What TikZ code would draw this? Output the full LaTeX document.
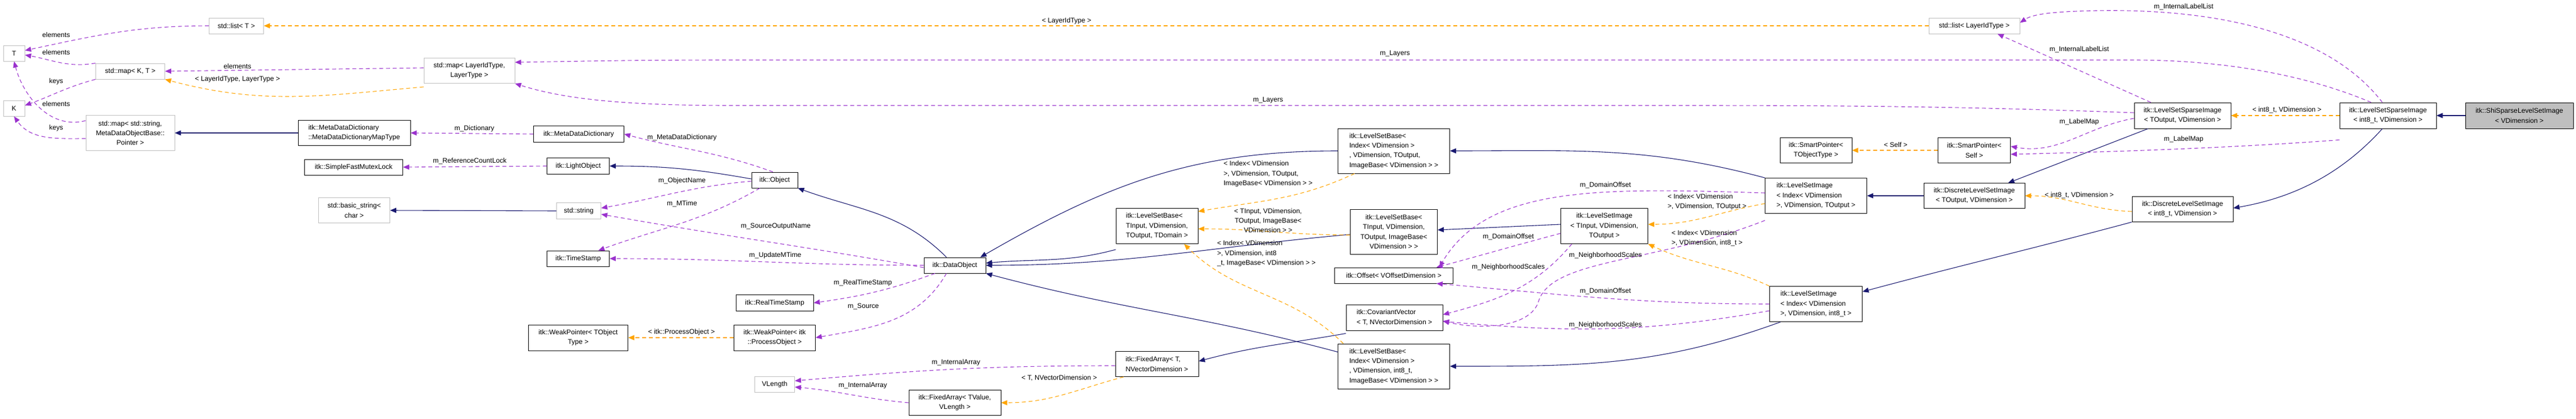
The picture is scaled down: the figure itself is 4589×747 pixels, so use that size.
\documentclass[tikz,border=0pt]{standalone}
\usepackage{fontspec}
\newfontfamily\dfont{Liberation Sans}
\usetikzlibrary{arrows.meta}
\definecolor{navy}{HTML}{191970}
\definecolor{purp}{HTML}{9A32CD}
\definecolor{orng}{HTML}{FFA500}
\definecolor{gborder}{HTML}{BFBFBF}
\definecolor{gfill}{HTML}{BFBFBF}
\begin{document}
\begin{tikzpicture}[x=1bp,y=-1bp,
  box/.style={draw=black, line width=0.9bp, fill=white, align=center, inner sep=1bp, font=\dfont\fontsize{12.2}{17.4}\selectfont},
  lbox/.style={box, align=left},
  gbox/.style={box, draw=gborder},
  lbl/.style={font=\dfont\fontsize{12.2}{17.4}\selectfont, inner sep=0pt, align=center},
  llbl/.style={lbl, align=left},
  tip/.style={-{Triangle[length=11bp,width=9bp]}},
  inh/.style={draw=navy, line width=1.1bp, tip},
  use/.style={draw=purp, line width=1.1bp, dash pattern=on 7bp off 5bp, tip},
  tpl/.style={draw=orng, line width=1.1bp, dash pattern=on 7bp off 5bp, tip}]
\useasboundingbox (0,0) rectangle (4589,747);
% nodes
\node[gbox, minimum width=38bp, minimum height=28bp] (T) at (25,95) {T};
\node[gbox, minimum width=38bp, minimum height=28bp] (K) at (25,193) {K};
\node[gbox, minimum width=97bp, minimum height=28bp] (listT) at (421,46) {std::list< T >};
\node[gbox, minimum width=123bp, minimum height=28bp] (mapKT) at (232,127) {std::map< K, T >};
\node[gbox, minimum width=158bp, minimum height=63bp] (mapSP) at (232,237) {std::map< std::string,\\ MetaDataObjectBase::\\ Pointer >};
\node[lbox, minimum width=200bp, minimum height=45bp] (mdmt) at (631,237) {itk::MetaDataDictionary\\::MetaDataDictionaryMapType};
\node[box, minimum width=175bp, minimum height=28bp] (sfml) at (630,298) {itk::SimpleFastMutexLock};
\node[gbox, minimum width=127bp, minimum height=45bp] (bstr) at (631,375) {std::basic\_string<\\ char >};
\node[gbox, minimum width=162bp, minimum height=45bp] (mapLL) at (836,126) {std::map< LayerIdType,\\ LayerType >};
\node[box, minimum width=161bp, minimum height=29bp] (mdd) at (1031,239) {itk::MetaDataDictionary};
\node[box, minimum width=111bp, minimum height=29bp] (lobj) at (1030,296) {itk::LightObject};
\node[box, minimum width=82bp, minimum height=28bp] (obj) at (1380,321) {itk::Object};
\node[gbox, minimum width=79bp, minimum height=29bp] (str) at (1031,376) {std::string};
\node[box, minimum width=111bp, minimum height=28bp] (ts) at (1030,461) {itk::TimeStamp};
\node[box, minimum width=138bp, minimum height=29bp] (rts) at (1380,540) {itk::RealTimeStamp};
\node[box, minimum width=177bp, minimum height=46bp] (wpT) at (1030,602) {itk::WeakPointer< TObject\\Type >};
\node[box, minimum width=145bp, minimum height=46bp] (wpP) at (1380,602) {itk::WeakPointer< itk\\::ProcessObject >};
\node[gbox, minimum width=71bp, minimum height=28bp] (vlen) at (1380,685) {VLength};
\node[box, minimum width=110bp, minimum height=28bp] (dobj) at (1701,473) {itk::DataObject};
\node[lbox, minimum width=146bp, minimum height=63bp] (lsbD) at (2061,403) {itk::LevelSetBase<\\ TInput, VDimension,\\ TOutput, TDomain >};
\node[lbox, minimum width=148bp, minimum height=45bp] (faT) at (2061,649) {itk::FixedArray< T,\\ NVectorDimension >};
\node[box, minimum width=164bp, minimum height=45bp] (faV) at (1701,718) {itk::FixedArray< TValue,\\VLength >};
\node[lbox, minimum width=199bp, minimum height=80bp] (lsbIO) at (2483,269) {itk::LevelSetBase<\\ Index< VDimension >\\, VDimension, TOutput,\\ ImageBase< VDimension > >};
\node[box, minimum width=155bp, minimum height=80bp] (lsbTI) at (2483,413) {itk::LevelSetBase<\\ TInput, VDimension,\\TOutput, ImageBase<\\VDimension > >};
\node[box, minimum width=211bp, minimum height=28bp] (off) at (2483,491) {itk::Offset< VOffsetDimension >};
\node[lbox, minimum width=172bp, minimum height=46bp] (cov) at (2484,566) {itk::CovariantVector\\< T, NVectorDimension >};
\node[lbox, minimum width=199bp, minimum height=80bp] (lsbI8) at (2483,653) {itk::LevelSetBase<\\ Index< VDimension >\\, VDimension, int8\_t,\\ ImageBase< VDimension > >};
\node[box, minimum width=155bp, minimum height=63bp] (lsiT) at (2858,403) {itk::LevelSetImage\\< TInput, VDimension,\\TOutput >};
\node[gbox, minimum width=162bp, minimum height=28bp] (listL) at (3517,46) {std::list< LayerIdType >};
\node[box, minimum width=128bp, minimum height=45bp] (spT) at (3235,268) {itk::SmartPointer<\\TObjectType >};
\node[box, minimum width=129bp, minimum height=45bp] (spS) at (3517,268) {itk::SmartPointer<\\Self >};
\node[lbox, minimum width=181bp, minimum height=63bp] (lsiIO) at (3235,349) {itk::LevelSetImage\\< Index< VDimension\\ >, VDimension, TOutput >};
\node[box, minimum width=180bp, minimum height=45bp] (dlsO) at (3517,349) {itk::DiscreteLevelSetImage\\< TOutput, VDimension >};
\node[lbox, minimum width=165bp, minimum height=63bp] (lsiI8) at (3235,542) {itk::LevelSetImage\\< Index< VDimension\\ >, VDimension, int8\_t >};
\node[box, minimum width=172bp, minimum height=46bp] (lssO) at (3888,206) {itk::LevelSetSparseImage\\< TOutput, VDimension >};
\node[box, minimum width=180bp, minimum height=45bp] (dls8) at (3888,373) {itk::DiscreteLevelSetImage\\< int8\_t, VDimension >};
\node[box, minimum width=172bp, minimum height=46bp] (lss8) at (4254,206) {itk::LevelSetSparseImage\\< int8\_t, VDimension >};
\node[box, fill=gfill, minimum width=192bp, minimum height=46bp] (shi) at (4488,206) {itk::ShiSparseLevelSetImage\\< VDimension >};
% edges left
\draw[use] (listT.west) to[out=180,in=12] ([yshift=5bp]T.east);
\draw[use] (mapKT.north west) to[out=190,in=-10] ([yshift=-3bp]T.east);
\draw[use] (mapKT.south west) to[out=195,in=20] ([yshift=5bp]K.east);
\draw[use] ([yshift=-10bp]mapSP.north west) to[out=195,in=-75] (T.south);
\draw[use] ([yshift=-10bp]mapSP.west) to[out=180,in=-55] (K.south);
\draw[tpl] (listL.west) -- (listT.east);
\draw[use] ([yshift=5bp]mapLL.west) -- (mapKT.east);
\draw[tpl] ([yshift=-6bp]mapLL.south west) to[out=185,in=-15] (mapKT.south east);
\draw[inh] (mdmt.west) -- (mapSP.east);
\draw[use] (mdd.west) -- (mdmt.east);
\draw[use] (lobj.west) -- (sfml.east);
\draw[inh] ([yshift=2bp]obj.west) to[out=170,in=0] (lobj.east);
\draw[use] ([xshift=-3bp]obj.north) to[out=160,in=-15] (mdd.east);
\draw[inh] (str.west) -- (bstr.east);
\draw[use] ([yshift=-2bp]obj.west) to[out=185,in=10] ([yshift=5bp]str.east);
\draw[use] ([xshift=15bp]obj.south west) to[out=-150,in=20] ([xshift=-20bp]ts.north east);
\draw[inh] ([xshift=-15bp]dobj.north) to[out=135,in=-20] (obj.south east);
\draw[use] ([yshift=-4bp]dobj.west) to[out=170,in=-10] ([yshift=-6bp]str.east);
\draw[use] (dobj.west) to[out=180,in=0] (ts.east);
\draw[use] ([xshift=20bp]dobj.south west) to[out=-160,in=8] (rts.east);
\draw[use] ([xshift=-15bp]dobj.south) to[out=-120,in=10] (wpP.east);
\draw[tpl] (wpP.west) -- (wpT.east);
% center
\draw[inh] ([yshift=-10bp]lsbD.south west) to[out=195,in=5] ([yshift=4bp]dobj.east);
\draw[inh] (lsbIO.west) to[out=180,in=30] ([xshift=-10bp]dobj.north east);
\draw[inh] ([yshift=-5bp]lsbTI.west) to[out=185,in=0] (dobj.east);
\draw[inh] ([yshift=-15bp]lsbI8.north west) to[out=165,in=-15] (dobj.south east);
\draw[tpl] ([xshift=30bp]lsbIO.south west) to[out=-155,in=10] ([yshift=-6bp]lsbD.north east);
\draw[tpl] ([yshift=-6bp]lsbTI.west) to[out=180,in=0] ([yshift=-5bp]lsbD.east);
\draw[tpl] ([xshift=10bp]lsbI8.north west) to[out=135,in=-45] ([xshift=-25bp]lsbD.south east);
\draw[use] ([yshift=-3bp]faT.west) to[out=180,in=5] ([yshift=6bp]vlen.east);
\draw[use] (faV.west) to[out=175,in=-5] ([yshift=-5bp]vlen.east);
\draw[tpl] ([xshift=15bp]faT.south west) to[out=-165,in=0] (faV.east);
\draw[inh] ([yshift=-5bp]cov.south west) to[out=190,in=15] ([yshift=5bp]faT.east);
\draw[inh] ([yshift=3bp]lsiT.west) -- ([yshift=3bp]lsbTI.east);
\draw[use] ([yshift=-13bp]lsiT.west) to[out=195,in=15] ([xshift=-30bp]off.north east);
\draw[use] ([xshift=20bp]lsiT.south west) to[out=-130,in=15] ([yshift=5bp]cov.east);
% right
\draw[inh] (lsiIO.north west) to[out=165,in=0] (lsbIO.east);
\draw[use] ([yshift=5bp]lsiIO.west) .. controls (2850,335) and (2650,330) .. ([xshift=-25bp]off.north east);
\draw[use] ([yshift=-12bp]lsiIO.south west) .. controls (2950,470) and (2760,460) .. (2740,540) .. controls (2720,590) and (2620,585) .. ([yshift=-6bp]cov.east);
\draw[tpl] ([yshift=18bp]lsiIO.south west) to[out=190,in=0] ([yshift=3bp]lsiT.east);
\draw[inh] ([xshift=20bp]lsiI8.south west) to[out=-160,in=0] (lsbI8.east);
\draw[use] (lsiI8.west) to[out=180,in=-5] ([xshift=-30bp]off.south east);
\draw[use] ([yshift=-12bp]lsiI8.west) to[out=190,in=-5] ([yshift=-7bp]cov.east);
\draw[tpl] (lsiI8.north west) to[out=155,in=-25] (lsiT.south east);
\draw[inh] (dlsO.west) -- (lsiIO.east);
\draw[inh] (dls8.south west) to[out=195,in=15] ([yshift=-10bp]lsiI8.north east);
\draw[tpl] ([yshift=-4bp]dls8.west) to[out=178,in=0] (dlsO.east);
\draw[tpl] (spS.west) -- (spT.east);
\draw[inh] ([xshift=25bp]lssO.south west) -- ([xshift=-30bp]dlsO.north east);
\draw[use] ([xshift=30bp]lssO.north west) -- ([xshift=-40bp]listL.south east);
\draw[use] ([yshift=5bp]lssO.west) .. controls (3500,190) and (3300,188) .. (3000,188) -- (1300,188) .. controls (1100,188) and (1000,175) .. (mapLL.south east);
\draw[use] ([yshift=-5bp]lssO.west) to[out=190,in=-10] ([yshift=7bp]spS.east);
\draw[tpl] (lss8.west) -- (lssO.east);
\draw[inh] ([xshift=-10bp]lss8.south) .. controls (4180,300) and (4100,350) .. ([yshift=2bp]dls8.east);
\draw[use] ([xshift=-10bp]lss8.north) .. controls (4150,60) and (3950,10) .. (3700,20) .. controls (3650,22) and (3620,26) .. ([yshift=-9bp]listL.north east);
\draw[use] ([xshift=-30bp]lss8.north) .. controls (4100,130) and (3950,107) .. (3800,107) -- (1300,107) .. controls (1100,107) and (1000,110) .. ([yshift=-8bp]mapLL.north east);
\draw[use] ([yshift=-20bp]lss8.south west) .. controls (4000,262) and (3800,270) .. ([yshift=-7bp]spS.east);
\draw[inh] (shi.west) -- (lss8.east);
% labels
\node[lbl] (a1) at (100,62) {elements};
\node[lbl] (a2) at (100,93) {elements};
\node[lbl] (a3) at (100,145) {keys};
\node[lbl] (a4) at (100,185) {elements};
\node[lbl] (a5) at (100,228) {keys};
\node[lbl] (a6) at (1900,37) {< LayerIdType >};
\node[lbl] (a7) at (423,118) {elements};
\node[lbl] (a8) at (423,141) {< LayerIdType, LayerType >};
\node[lbl] (a9) at (845,229) {m\_Dictionary};
\node[lbl] (a10) at (837,287) {m\_ReferenceCountLock};
\node[lbl] (a11) at (1215,245) {m\_MetaDataDictionary};
\node[lbl] (a12) at (1215,322) {m\_ObjectName};
\node[lbl] (a13) at (1215,363) {m\_MTime};
\node[lbl] (a14) at (1382,404) {m\_SourceOutputName};
\node[lbl] (a15) at (1381,455) {m\_UpdateMTime};
\node[lbl] (a16) at (1537,504) {m\_RealTimeStamp};
\node[lbl] (a17) at (1538,546) {m\_Source};
\node[lbl] (a18) at (1214,592) {< itk::ProcessObject >};
\node[lbl] (a19) at (1703,646) {m\_InternalArray};
\node[lbl] (a20) at (1537,687) {m\_InternalArray};
\node[lbl] (a21) at (1887,674) {< T, NVectorDimension >};
\node[llbl] (a22) at (2259,310) {< Index< VDimension\\>, VDimension, TOutput,\\ImageBase< VDimension > >};
\node[lbl] (a23) at (2259,393) {< TInput, VDimension,\\TOutput, ImageBase<\\VDimension > >};
\node[llbl] (a24) at (2256,452) {< Index< VDimension\\>, VDimension, int8\\\_t, ImageBase< VDimension > >};
\node[lbl] (a25) at (2259,179) {m\_Layers};
\node[lbl] (a26) at (2485,96) {m\_Layers};
\node[lbl] (a27) at (2860,330) {m\_DomainOffset};
\node[lbl] (a28) at (2687,422) {m\_DomainOffset};
\node[lbl] (a29) at (2860,519) {m\_DomainOffset};
\node[lbl] (a30) at (2687,476) {m\_NeighborhoodScales};
\node[lbl] (a31) at (2860,455) {m\_NeighborhoodScales};
\node[lbl] (a32) at (2860,579) {m\_NeighborhoodScales};
\node[llbl] (a33) at (3041,360) {< Index< VDimension\\>, VDimension, TOutput >};
\node[llbl] (a34) at (3041,425) {< Index< VDimension\\>, VDimension, int8\_t >};
\node[lbl] (a35) at (3704,88) {m\_InternalLabelList};
\node[lbl] (a36) at (3890,12) {m\_InternalLabelList};
\node[lbl] (a37) at (3704,217) {m\_LabelMap};
\node[lbl] (a38) at (3890,248) {m\_LabelMap};
\node[lbl] (a39) at (3377,258) {< Self >};
\node[lbl] (a40) at (3704,348) {< int8\_t, VDimension >};
\node[lbl] (a41) at (4074,196) {< int8\_t, VDimension >};
\end{tikzpicture}
\end{document}
